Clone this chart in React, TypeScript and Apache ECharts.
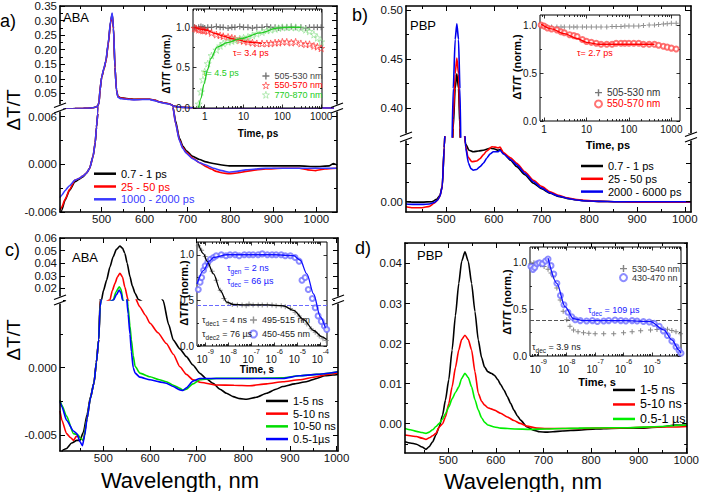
import React, { useEffect, useRef } from "react";
import * as echarts from "echarts";

type P = [number, number];
const FONT = "'Liberation Sans', Arial, sans-serif";

// ---------- (a) ABA, ps spectra ----------
const A_NAMES = ["0.7 - 1 ps", "25 - 50 ps", "1000 - 2000 ps"];
const A_BLACK: P[] = [[403,-0.0068],[407,-0.0058],[415,-0.0045],[425,-0.0033],[438,-0.0022],[447,-0.0019],[456,-0.0016],[465,-0.0011],[472,-0.0005],[480,0.001],[485,0.0027],[488,0.0047],[491,0.0064],[494,0.02],[496,0.06],[500,0.105],[505,0.133],[510,0.162],[515,0.218],[521,0.297],[524.5,0.322],[527.5,0.274],[531,0.14],[534.5,0.062],[538,0.039],[545,0.035],[550,0.034],[565,0.031],[575,0.03],[595,0.03],[612,0.03],[625,0.026],[635,0.021],[648,0.017],[658,0.014],[663,0.011],[666,0.0072],[672,0.0055],[681,0.0033],[689,0.0023],[697,0.0017],[712,0.001],[728,0.0006],[743,0.0003],[760,0.0001],[780,-0.0001],[797,-0.0002],[840,-0.0002],[882,-0.0002],[921,-0.0002],[960,-0.0002],[998,-0.0003],[1030,-0.0002],[1040,0.0001],[1048,-0.0001]];
const A_RED: P[] = [[403,-0.0058],[407,-0.0054],[415,-0.0044],[425,-0.0032],[438,-0.002],[447,-0.0018],[456,-0.0015],[465,-0.0011],[472,-0.0005],[480,0.001],[485,0.0027],[488,0.0047],[491,0.0064],[494,0.02],[496,0.06],[500,0.105],[505,0.133],[510,0.16],[515,0.215],[521,0.295],[524.5,0.32],[527.5,0.272],[531,0.14],[534.5,0.062],[538,0.039],[545,0.034],[550,0.033],[565,0.03],[575,0.029],[595,0.03],[612,0.03],[625,0.026],[635,0.021],[648,0.017],[658,0.014],[663,0.011],[666,0.0072],[672,0.0052],[681,0.0031],[689,0.0021],[697,0.0015],[712,0.0008],[728,0.0002],[743,-0.0003],[755,-0.0006],[767,-0.0009],[782,-0.0011],[797,-0.0012],[815,-0.0011],[836,-0.0009],[860,-0.0007],[882,-0.0006],[921,-0.0005],[960,-0.0005],[980,-0.0007],[998,-0.0008],[1020,-0.0006],[1048,-0.0005]];
const A_BLUE: P[] = [[403,-0.0042],[407,-0.0039],[415,-0.0033],[425,-0.0027],[438,-0.002],[447,-0.0018],[456,-0.0015],[465,-0.0011],[472,-0.0005],[480,0.001],[485,0.0027],[488,0.0047],[491,0.0064],[494,0.02],[496,0.06],[500,0.106],[505,0.135],[510,0.163],[515,0.22],[521,0.3],[524.5,0.326],[527.5,0.276],[531,0.14],[534.5,0.06],[538,0.037],[545,0.032],[550,0.031],[565,0.029],[575,0.028],[595,0.029],[612,0.029],[625,0.025],[635,0.02],[648,0.016],[658,0.013],[663,0.0105],[666,0.0072],[672,0.0052],[681,0.003],[689,0.002],[697,0.0014],[712,0.0007],[728,0.0002],[743,-0.0001],[760,-0.0005],[780,-0.0008],[797,-0.001],[815,-0.0009],[836,-0.0007],[860,-0.0006],[882,-0.0005],[921,-0.0005],[960,-0.0005],[998,-0.0005],[1020,-0.0005],[1048,-0.0005]];
// (a) inset, time in ps
const AI_NAMES = ["505-530 nm", "550-570 nm", "770-870 nm"];
const AI_GRAY: P[] = [[0.55,1.0],[0.6,0.99],[0.7,1.0],[0.8,1.01],[0.9,1.0],[1,0.99],[1.2,1.0],[1.5,1.0],[2,1.01],[2.5,1.0],[3,1.0],[4,0.99],[5,1.0],[6,1.0],[8,1.01],[10,1.0],[13,1.0],[17,0.99],[22,1.0],[30,1.0],[40,1.01],[50,1.0],[65,1.0],[80,0.99],[100,1.0],[130,1.0],[170,1.01],[220,1.0],[300,1.0],[400,0.99],[500,1.0],[650,1.0],[800,1.0],[1000,1.0]];
const AI_RED: P[] = [[0.55,0.99],[0.6,0.98],[0.7,0.97],[0.8,0.97],[0.9,0.96],[1,0.96],[1.2,0.95],[1.5,0.93],[2,0.91],[2.5,0.9],[3,0.89],[4,0.88],[5,0.87],[6,0.86],[8,0.84],[10,0.83],[13,0.82],[17,0.81],[22,0.8],[30,0.8],[40,0.8],[50,0.8],[65,0.81],[80,0.81],[100,0.82],[130,0.82],[170,0.81],[220,0.82],[300,0.8],[400,0.79],[500,0.79],[650,0.77],[800,0.76],[1000,0.74]];
const AI_GREEN: P[] = [[0.7,0.05],[0.8,0.2],[0.9,0.35],[1,0.45],[1.2,0.55],[1.5,0.65],[2,0.72],[2.5,0.77],[3,0.8],[4,0.82],[5,0.83],[6,0.84],[8,0.86],[10,0.87],[13,0.88],[17,0.9],[22,0.92],[30,0.94],[40,0.96],[50,0.97],[65,0.98],[80,0.99],[100,1.0],[130,1.0],[170,1.0],[220,1.0],[300,0.99],[400,0.97],[500,0.95],[650,0.91],[800,0.87],[1000,0.82]];
const AI_RED_FIT: P[] = [[0.55,1.0],[1,0.97],[2,0.92],[3,0.89],[5,0.86],[8,0.84],[12,0.82],[20,0.81],[30,0.8]];
const AI_GREEN_FIT: P[] = [[0.7,0.0],[0.8,0.12],[0.96,0.3],[1.2,0.48],[1.42,0.61],[2.1,0.755],[3.8,0.81],[8.4,0.86],[27,0.93],[73,0.99],[150,1.0],[300,1.0]];

// ---------- (b) PBP, ps spectra ----------
const B_NAMES = ["0.7 - 1 ps", "25 - 50 ps", "2000 - 6000 ps"];
const B_BLACK: P[] = [[416,0.0],[430,-0.0005],[450,-0.0005],[470,0.0],[480,0.003],[487,0.008],[492,0.02],[496,0.07],[500,0.12],[506,0.22],[511,0.32],[515,0.38],[519,0.42],[522.5,0.435],[526,0.42],[529,0.38],[532,0.3],[536,0.1],[541,0.075],[548,0.067],[557,0.065],[568,0.066],[578,0.067],[592,0.0695],[600,0.069],[609,0.067],[614,0.068],[620,0.063],[635,0.054],[648,0.0456],[665,0.035],[683,0.024],[700,0.017],[718,0.011],[735,0.007],[753,0.0044],[770,0.0025],[788,0.0013],[820,0.0005],[857,0.0],[900,0.0],[950,0.0],[1013,0.0]];
const B_RED: P[] = [[416,-0.0065],[430,-0.0078],[450,-0.0078],[465,-0.006],[475,-0.002],[482,0.002],[487,0.007],[492,0.02],[496,0.07],[500,0.12],[506,0.22],[511,0.32],[515,0.39],[519,0.435],[522.5,0.451],[526,0.435],[529,0.39],[532,0.31],[536,0.12],[540,0.075],[546,0.058],[554,0.052],[564,0.053],[571,0.056],[578,0.061],[585,0.066],[596,0.0716],[603,0.071],[609,0.07],[613,0.071],[620,0.064],[635,0.057],[648,0.05],[665,0.039],[683,0.028],[700,0.02],[718,0.013],[735,0.0085],[753,0.0052],[770,0.003],[788,0.0017],[820,0.0005],[857,0.0],[900,-0.0005],[950,-0.0005],[1013,-0.0005]];
const B_BLUE: P[] = [[416,-0.003],[430,-0.0035],[450,-0.0035],[465,-0.003],[475,-0.001],[482,0.002],[487,0.007],[492,0.02],[496,0.07],[500,0.12],[506,0.23],[511,0.34],[515,0.42],[519,0.47],[522.5,0.486],[526,0.47],[529,0.42],[532,0.33],[536,0.13],[541,0.07],[547,0.05],[552,0.043],[557,0.041],[564,0.042],[571,0.0456],[578,0.05],[585,0.0565],[592,0.062],[599,0.065],[609,0.065],[613,0.067],[620,0.062],[635,0.055],[648,0.048],[665,0.037],[683,0.026],[700,0.018],[718,0.0115],[735,0.0075],[753,0.0046],[770,0.0026],[788,0.0013],[820,0.0004],[857,0.0],[900,0.0],[950,0.0],[1013,0.0]];
// (b) inset, ps
const BI_NAMES = ["505-530 nm", "550-570 nm\u200b"];
const BI_GRAY: P[] = [[0.85,0.99],[1,0.98],[1.2,0.98],[1.5,0.98],[2,0.98],[2.5,0.98],[3,0.98],[4,0.98],[5,0.98],[6,0.98],[8,0.98],[10,0.98],[13,0.98],[17,0.98],[22,0.98],[30,0.98],[40,0.985],[50,0.985],[65,0.985],[80,0.99],[100,0.99],[130,0.99],[170,0.99],[220,0.995],[300,1.0],[400,1.0],[500,1.005],[650,1.01],[800,1.015],[1000,1.02],[1300,1.02]];
const BI_RED: P[] = [[0.85,1.0],[1,0.99],[1.2,0.97],[1.5,0.96],[2,0.95],[2.5,0.93],[3,0.92],[4,0.9],[5,0.89],[6,0.88],[8,0.85],[10,0.83],[13,0.82],[17,0.81],[22,0.8],[30,0.8],[40,0.8],[50,0.81],[65,0.81],[80,0.81],[100,0.81],[130,0.81],[170,0.81],[220,0.8],[300,0.8],[400,0.8],[500,0.79],[650,0.78],[800,0.77],[1000,0.76],[1300,0.75]];
const BI_RED_FIT: P[] = [[0.85,1.01],[1.5,0.96],[3,0.91],[6,0.86],[10,0.82],[20,0.8],[50,0.8],[100,0.8],[200,0.8],[400,0.8]];

// ---------- (c) ABA, ns spectra ----------
const C_NAMES = ["1-5 ns", "5-10 ns", "10-50 ns", "0.5-1\u00b5s"];
const C_BLACK: P[] = [[407,-0.0066],[414,-0.0061],[421,-0.006],[432,-0.0056],[443,-0.0054],[450,-0.0054],[457,-0.0048],[465,-0.0035],[472,-0.0022],[480,-0.0011],[485,0.0004],[490,0.0021],[493,0.005],[496,0.0107],[500,0.018],[507,0.0266],[514,0.037],[521,0.0452],[528,0.051],[535.5,0.0537],[541,0.052],[546,0.048],[551,0.04],[557,0.0293],[562,0.022],[568,0.016],[575,0.0111],[590,0.008],[610,0.0062],[628,0.005],[640,0.0032],[650,0.00205],[664,0.0014],[678,0.00082],[692,0.0002],[707,-0.00042],[720,-0.0008],[735,-0.00116],[750,-0.0016],[764,-0.0019],[778,-0.00215],[793,-0.0023],[807,-0.00235],[828,-0.0022],[850,-0.0019],[870,-0.0016],[885,-0.0014],[910,-0.0012],[935,-0.00104],[957,-0.0008],[975,-0.0006],[992,-0.00054],[1003,-0.0005]];
const C_RED: P[] = [[407,-0.0032],[411,-0.0039],[421,-0.0049],[430,-0.0052],[436,-0.0054],[442,-0.0051],[446,-0.0051],[450,-0.0052],[457,-0.0054],[465,-0.0038],[472,-0.0023],[480,-0.0011],[485,0.0004],[490,0.0021],[493,0.0045],[500,0.0085],[514,0.0107],[519,0.018],[525,0.024],[530,0.029],[535.5,0.032],[541,0.029],[546,0.021],[553,0.0107],[560,0.0075],[568,0.0052],[578,0.00453],[590,0.0039],[600,0.0033],[617,0.0026],[635,0.0018],[650,0.001],[664,0.00007],[678,-0.0005],[692,-0.0009],[710,-0.0011],[742,-0.00129],[780,-0.0013],[814,-0.00134],[850,-0.0012],[885,-0.00104],[920,-0.0009],[957,-0.00067],[980,-0.0005],[1003,-0.0004]];
const C_GREEN: P[] = [[407,-0.0024],[411,-0.0028],[421,-0.0036],[436,-0.0049],[446,-0.005],[450,-0.0052],[457,-0.0054],[465,-0.0038],[472,-0.0023],[480,-0.0011],[485,0.0004],[490,0.0021],[493,0.0045],[505,0.008],[521,0.0107],[527,0.017],[534,0.0213],[538,0.019],[542,0.0107],[548,0.0065],[553,0.0045],[557,0.0031],[560,0.0021],[564,0.0009],[568,0.0001],[578,-0.0004],[600,-0.00067],[620,-0.0009],[635,-0.00104],[650,-0.0013],[664,-0.00153],[670,-0.00166],[678,-0.0016],[692,-0.0012],[707,-0.0009],[742,-0.00079],[814,-0.00079],[885,-0.00075],[920,-0.0006],[957,-0.0005],[1003,-0.0003]];
const C_BLUE: P[] = [[407,-0.0025],[411,-0.0029],[421,-0.0039],[436,-0.0047],[443,-0.0049],[450,-0.0055],[455,-0.0058],[460,-0.005],[465,-0.0038],[472,-0.0023],[480,-0.0011],[485,0.0004],[490,0.0021],[493,0.0045],[505,0.008],[522,0.0107],[528,0.015],[534,0.0187],[538,0.016],[541,0.0107],[548,0.006],[553,0.004],[557,0.0025],[560,0.0012],[564,0.0],[568,-0.0004],[578,-0.0007],[600,-0.0009],[620,-0.00105],[635,-0.00116],[650,-0.0014],[664,-0.00165],[670,-0.0017],[678,-0.0015],[692,-0.001],[707,-0.0008],[742,-0.0008],[814,-0.0008],[885,-0.0008],[920,-0.0006],[957,-0.0005],[1003,-0.0003]];
// (c) inset, time in s
const CI_NAMES = ["495-515 nm", "450-455 nm"];
const CI_GRAY: P[] = [[5e-10,1.1],[7e-10,1.05],[1e-9,0.98],[1.4e-9,0.9],[2e-9,0.82],[3e-9,0.72],[4.5e-9,0.61],[6.5e-9,0.52],[1e-8,0.47],[1.5e-8,0.455],[2.5e-8,0.45],[4e-8,0.45],[6e-8,0.44],[8e-8,0.46],[1.2e-7,0.45],[2e-7,0.45],[3e-7,0.45],[5e-7,0.45],[8e-7,0.45],[1.2e-6,0.44],[2e-6,0.44],[3e-6,0.43],[5e-6,0.41],[8e-6,0.37],[1.2e-5,0.33],[1.8e-5,0.28],[2.6e-5,0.24],[4e-5,0.19],[6e-5,0.15],[9e-5,0.11],[1.3e-4,0.08],[1.8e-4,0.06]];
const CI_BLACK_FIT: P[] = [[5e-10,1.12],[8.5e-10,1.01],[1.2e-9,0.93],[2.3e-9,0.79],[4.5e-9,0.61],[8.7e-9,0.48],[1.7e-8,0.455],[5e-8,0.45],[4.8e-7,0.45],[2.5e-6,0.44],[6.9e-6,0.39],[1.9e-5,0.29],[5.1e-5,0.17],[1.2e-4,0.1],[1.9e-4,0.07]];
const CI_BLUE: P[] = [[5e-10,0.62],[6e-10,0.7],[7e-10,0.75],[8.5e-10,0.83],[1e-9,0.88],[1.3e-9,0.92],[1.7e-9,0.95],[2.3e-9,0.97],[3e-9,0.99],[5e-9,1.0],[8e-9,0.99],[1.2e-8,1.0],[2e-8,1.0],[3e-8,0.99],[5e-8,1.0],[8e-8,1.0],[1.2e-7,1.0],[2e-7,1.0],[3e-7,1.01],[5e-7,1.0],[8e-7,1.0],[1.2e-6,1.0],[2e-6,1.0],[3e-6,0.99],[5e-6,0.99],[8e-6,0.97],[1.2e-5,0.93],[1.6e-5,0.72],[2.2e-5,0.75],[3e-5,0.62],[4.5e-5,0.52],[6e-5,0.42],[8e-5,0.33],[1.1e-4,0.27],[1.5e-4,0.22],[1.9e-4,0.18]];
const CI_BLUE_FIT: P[] = [[4.4e-10,0.68],[8.5e-10,0.83],[1.5e-9,0.93],[2.3e-9,0.97],[8.7e-9,1.0],[1e-7,1.0],[1e-6,1.0],[6.9e-6,0.99],[1.35e-5,0.94],[2.6e-5,0.79],[5.1e-5,0.57],[1e-4,0.32],[1.66e-4,0.2]];
const CI_LEVEL = 0.445;

// ---------- (d) PBP, ns spectra ----------
const D_NAMES = ["1-5 ns", "5-10 ns", "0.5-1 \u00b5s"];
const D_BLACK: P[] = [[409,-0.0045],[420,-0.0048],[433,-0.0051],[445,-0.0058],[453,-0.0064],[460,-0.0057],[467,-0.0045],[474,-0.0028],[481,-0.00075],[488,0.0022],[494,0.0059],[501,0.011],[508,0.0184],[515,0.027],[522,0.035],[528,0.0405],[535,0.0429],[542,0.0405],[549,0.035],[556,0.028],[563,0.0209],[570,0.0165],[576,0.0142],[583,0.013],[590,0.0126],[597,0.0121],[604,0.011],[610,0.0098],[617,0.0084],[624,0.0068],[631,0.0051],[638,0.0034],[645,0.002],[652,0.0009],[665,-0.00075],[679,-0.0016],[692,-0.002],[706,-0.0021],[720,-0.002],[740,-0.0018],[774,-0.0016],[810,-0.0013],[843,-0.00115],[877,-0.0011],[911,-0.0011],[945,-0.0008],[979,-0.0003],[1002,-0.0004]];
const D_RED: P[] = [[409,-0.0028],[420,-0.003],[433,-0.0032],[445,-0.0036],[453,-0.0039],[460,-0.0035],[467,-0.003],[474,-0.0024],[481,-0.0008],[488,0.0],[494,0.0017],[501,0.005],[508,0.0092],[515,0.014],[522,0.0184],[528,0.021],[535,0.0221],[542,0.021],[549,0.0184],[556,0.013],[563,0.0076],[570,0.0056],[576,0.0047],[583,0.004],[590,0.0037],[597,0.0034],[610,0.0026],[624,0.0017],[638,0.0008],[651,0.0001],[665,-0.0006],[686,-0.0011],[706,-0.0012],[740,-0.0012],[774,-0.0012],[810,-0.0011],[843,-0.0011],[877,-0.001],[911,-0.0009],[945,-0.0008],[979,-0.0008],[1002,-0.0007]];
const D_GREEN: P[] = [[409,-0.0012],[420,-0.0015],[433,-0.0019],[445,-0.0022],[453,-0.0024],[460,-0.0021],[467,-0.0015],[474,-0.0007],[481,0.0001],[488,0.0012],[494,0.0025],[501,0.0042],[508,0.0062],[515,0.0078],[522,0.0092],[528,0.0113],[535,0.0126],[542,0.0115],[549,0.0092],[556,0.006],[563,0.0034],[570,0.0015],[576,0.0004],[583,-0.0003],[597,-0.0008],[610,-0.0011],[640,-0.0013],[672,-0.0014],[706,-0.0013],[740,-0.0012],[774,-0.0011],[843,-0.001],[877,-0.001],[945,-0.0007],[979,-0.0004],[1002,-0.0003]];
// (d) inset, s
const DI_NAMES = ["530-540 nm", "430-470 nn"];
const DI_GRAY: P[] = [[5.5e-10,0.99],[7e-10,1.0],[9e-10,0.99],[1.2e-9,0.98],[1.6e-9,0.96],[2.2e-9,0.93],[2.8e-9,0.89],[3.4e-9,0.85],[4.5e-9,0.73],[5.9e-9,0.6],[7.5e-9,0.48],[1e-8,0.39],[1.3e-8,0.32],[1.74e-8,0.28],[2.5e-8,0.26],[3.9e-8,0.25],[6e-8,0.245],[1e-7,0.24],[2e-7,0.24],[4.5e-7,0.24],[1e-6,0.25],[2e-6,0.26],[4e-6,0.27],[8.9e-6,0.28],[1.5e-5,0.285],[2.5e-5,0.29],[3.5e-5,0.286],[5e-5,0.275],[7e-5,0.26],[1e-4,0.24]];
const DI_BLUE: P[] = [[5.5e-10,0.96],[6.5e-10,0.93],[7.5e-10,0.95],[9e-10,0.99],[1.1e-9,1.0],[1.4e-9,0.99],[1.8e-9,1.02],[2.2e-9,1.04],[2.8e-9,0.97],[3.5e-9,0.88],[4.5e-9,0.78],[6e-9,0.65],[8e-9,0.55],[1.1e-8,0.47],[1.5e-8,0.42],[2e-8,0.39],[3e-8,0.38],[5e-8,0.375],[8e-8,0.38],[1.2e-7,0.37],[2e-7,0.375],[3e-7,0.38],[5e-7,0.385],[8e-7,0.38],[1.2e-6,0.375],[2e-6,0.38],[3e-6,0.375],[5e-6,0.37],[8e-6,0.365],[1.2e-5,0.35],[1.8e-5,0.32],[2.5e-5,0.27],[3.5e-5,0.22],[5e-5,0.16],[7e-5,0.1],[9e-5,0.06],[1.05e-4,0.03]];
const DI_BLUE_FIT: P[] = [[2.2e-9,1.05],[4.5e-9,0.78],[8.7e-9,0.53],[1.74e-8,0.4],[3.9e-8,0.38],[1e-6,0.38],[8.9e-6,0.37],[2.6e-5,0.28],[5.1e-5,0.17],[8.9e-5,0.064],[1.05e-4,0.03]];
const DI_LEVEL = 0.38;

// ---------- tick values ----------
const NM_LABELS = [500, 600, 700, 800, 900, 1000];
const NM_MINOR = [450, 550, 650, 750, 850, 950];
const A_UP_LABELS = [0.05, 0.1, 0.15, 0.2, 0.25, 0.3, 0.35];
const A_UP_MINOR = [0.025, 0.075, 0.125, 0.175, 0.225, 0.275, 0.325];
const A_LO_LABELS = [-0.006, 0, 0.006];
const A_LO_MINOR = [-0.003, 0.003];
const B_UP_LABELS = [0.4, 0.45, 0.5];
const B_UP_MINOR = [0.375, 0.425, 0.475];
const B_LO_LABELS = [0];
const B_LO_MAJOR = [0, 0.05];
const B_LO_MINOR = [0.025, 0.075];
const C_UP_LABELS = [0.02, 0.03, 0.04, 0.05, 0.06];
const C_LO_LABELS = [-0.005, 0];
const C_LO_MAJOR = [-0.005, 0, 0.005];
const C_LO_MINOR = [-0.0025, 0.0025];
const D_LABELS = [0, 0.01, 0.02, 0.03, 0.04];
const D_MINOR = [-0.005, 0.005, 0.015, 0.025, 0.035, 0.045];
const NORM_LABELS = [0, 0.5, 1.0];
const NORM_MINOR = [0.25, 0.75];

const L = (d: P[]) => d.map(([t, v]) => [Math.log10(t), v]);
function logMinor(lo: number, hi: number) {
  const out: number[] = [];
  for (let e = Math.floor(lo) - 1; e <= Math.ceil(hi); e++)
    for (const k of [2, 3, 4, 5, 6, 7, 8, 9]) {
      const v = e + Math.log10(k);
      if (v > lo && v < hi) out.push(v);
    }
  return out;
}
function logMajor(lo: number, hi: number) {
  const out: number[] = [];
  for (let e = Math.ceil(lo); e <= Math.floor(hi); e++) out.push(e);
  return out;
}

function buildOption() {
  const xAxes: any[] = [];
  const yAxes: any[] = [];
  const series: any[] = [];

  function axis(list: any[], o: any): number {
    const idx = list.length;
    const base = { type: "value", gridIndex: o.grid, position: o.side, min: o.min, max: o.max, splitLine: { show: false }, z: o.z ?? 3 };
    list.push({
      ...base,
      axisLine: { show: !!o.line, onZero: false, lineStyle: { color: "#000", width: o.lw } },
      axisTick: { show: true, inside: true, length: o.majLen, customValues: o.major, lineStyle: { color: "#000", width: o.tw } },
      axisLabel: o.labels
        ? { show: true, customValues: o.labels, formatter: o.fmt, fontSize: o.font, fontFamily: FONT, color: "#111", margin: o.margin ?? 3, rich: o.rich }
        : { show: false },
    });
    if (o.minor && o.minor.length)
      list.push({
        ...base,
        axisLine: { show: false, onZero: false },
        axisTick: { show: true, inside: true, length: o.minLen, customValues: o.minor, lineStyle: { color: "#000", width: o.tw } },
        axisLabel: { show: false },
      });
    return idx;
  }

  const MAIN = { lw: 1.6, tw: 1, majLen: 5, minLen: 3, font: 11.5 };
  const INS = { lw: 1, tw: 0.8, majLen: 3.5, minLen: 2, font: 10, z: 6 };
  const f2 = (v: number) => v.toFixed(2);
  const f3 = (v: number) => v.toFixed(3);
  const f1 = (v: number) => v.toFixed(1);
  const fPow = (v: number) => String(Math.round(Math.pow(10, v)));
  const fSci = (v: number) => `{b|10}{s|${Math.round(v)}}`;
  const sciRich = {
    b: { fontSize: 10, lineHeight: 16, verticalAlign: "bottom", fontFamily: FONT, color: "#111" },
    s: { fontSize: 7, lineHeight: 8, verticalAlign: "top", fontFamily: FONT, color: "#111" },
  };

  const grids = [
    { left: 60, top: 5, width: 277, height: 103 },
    { left: 60, top: 108, width: 277, height: 104 },
    { left: 193, top: 9, width: 129, height: 99, inset: true },
    { left: 406, top: 6, width: 285, height: 131 },
    { left: 406, top: 137, width: 285, height: 75 },
    { left: 540, top: 15, width: 140, height: 106, inset: true },
    { left: 60, top: 238, width: 278, height: 62 },
    { left: 60, top: 300, width: 278, height: 151 },
    { left: 197, top: 242, width: 130, height: 104, inset: true },
    { left: 405, top: 243, width: 289, height: 210 },
    { left: 530, top: 247, width: 151, height: 109, inset: true },
  ].map((g) => ({
    left: g.left, top: g.top, width: g.width, height: g.height, containLabel: false,
    show: !!g.inset, backgroundColor: g.inset ? "#fff" : "transparent",
    borderColor: "#000", borderWidth: g.inset ? 1 : 0, z: g.inset ? 5 : 0,
  }));

  function brokenPanel(gu: number, gl: number, xr: number[], yu: number[], yl: number[], cfg: any) {
    const xu = axis(xAxes, { ...MAIN, grid: gu, side: "top", min: xr[0], max: xr[1], line: true, major: NM_LABELS, minor: NM_MINOR });
    axis(xAxes, { ...MAIN, grid: gu, side: "bottom", min: xr[0], max: xr[1], line: false, major: [] });
    const yu0 = axis(yAxes, { ...MAIN, grid: gu, side: "left", min: yu[0], max: yu[1], line: true, major: cfg.upLabels, labels: cfg.upLabels, fmt: cfg.upFmt, minor: cfg.upMinor });
    axis(yAxes, { ...MAIN, grid: gu, side: "right", min: yu[0], max: yu[1], line: true, major: cfg.upLabels, minor: cfg.upMinor });
    const xl = axis(xAxes, { ...MAIN, grid: gl, side: "bottom", min: xr[0], max: xr[1], line: true, major: NM_LABELS, labels: NM_LABELS, fmt: (v: number) => String(v), minor: NM_MINOR, margin: 1 });
    const yl0 = axis(yAxes, { ...MAIN, grid: gl, side: "left", min: yl[0], max: yl[1], line: true, major: cfg.loMajor, labels: cfg.loLabels, fmt: cfg.loFmt, minor: cfg.loMinor });
    axis(yAxes, { ...MAIN, grid: gl, side: "right", min: yl[0], max: yl[1], line: true, major: cfg.loMajor, minor: cfg.loMinor });
    return { xu, yu: yu0, xl, yl: yl0 };
  }
  function insetAxes(g: number, xr: number[], yr: number[], xLabels: number[], fmt: any, rich?: any) {
    const xi = axis(xAxes, { ...INS, grid: g, side: "bottom", min: xr[0], max: xr[1], major: logMajor(xr[0], xr[1]), labels: xLabels, fmt, rich, minor: logMinor(xr[0], xr[1]), margin: rich ? 2 : 3 });
    axis(xAxes, { ...INS, grid: g, side: "top", min: xr[0], max: xr[1], major: logMajor(xr[0], xr[1]), minor: logMinor(xr[0], xr[1]) });
    const yi = axis(yAxes, { ...INS, grid: g, side: "left", min: yr[0], max: yr[1], major: NORM_LABELS, labels: NORM_LABELS, fmt: f1, minor: NORM_MINOR });
    axis(yAxes, { ...INS, grid: g, side: "right", min: yr[0], max: yr[1], major: NORM_LABELS, minor: NORM_MINOR });
    return { xi, yi };
  }

  const mainLine = (name: string, data: P[], xi: number, yi: number, color: string) => ({
    type: "line", name, data, xAxisIndex: xi, yAxisIndex: yi, showSymbol: false, symbol: "none",
    lineStyle: { color, width: 1.6 }, itemStyle: { color }, clip: true, z: 2, smooth: 0.2, smoothMonotone: "x",
  });
  const fitLine = (name: string, data: any[], xi: number, yi: number, color: string, extra: any = {}) => ({
    type: "line", name, data, xAxisIndex: xi, yAxisIndex: yi, showSymbol: false, symbol: "none",
    lineStyle: { color, width: 1.3 }, itemStyle: { color }, clip: true, z: 8, smooth: 0.3, smoothMonotone: "x", ...extra,
  });
  const PLUS = "path://M4,0H6V4H10V6H6V10H4V6H0V4H4Z";
  const STAR = "path://M5,0L6.2,3.8L10,3.8L6.9,6.1L8.1,10L5,7.6L1.9,10L3.1,6.1L0,3.8L3.8,3.8Z";
  const plusSc = (name: string, data: any[], xi: number, yi: number, color: string, size = 6) => ({
    type: "scatter", name, data, xAxisIndex: xi, yAxisIndex: yi, symbol: PLUS, symbolSize: size, itemStyle: { color }, z: 7, clip: true,
  });
  const starSc = (name: string, data: any[], xi: number, yi: number, color: string) => ({
    type: "scatter", name, data, xAxisIndex: xi, yAxisIndex: yi, symbol: STAR, symbolSize: 7,
    itemStyle: { color: "rgba(0,0,0,0)", borderColor: color, borderWidth: 0.8 }, z: 7, clip: true,
  });
  const circSc = (name: string, data: any[], xi: number, yi: number, color: string) => ({
    type: "scatter", name, data, xAxisIndex: xi, yAxisIndex: yi, symbol: "emptyCircle", symbolSize: 5,
    itemStyle: { color, borderWidth: 0.8 }, z: 7, clip: true,
  });

  // ----- panel a -----
  const pa = brokenPanel(0, 1, [403, 1048], [0, 0.35], [-0.00602, 0.0071], {
    upLabels: A_UP_LABELS, upFmt: f2, upMinor: A_UP_MINOR, loLabels: A_LO_LABELS, loMajor: A_LO_LABELS, loFmt: f3, loMinor: A_LO_MINOR,
  });
  const aCols = ["#000", "#ff0000", "#3a3aff"];
  [A_BLACK, A_RED, A_BLUE].forEach((d, i) => {
    series.push(mainLine(A_NAMES[i], d, pa.xu, pa.yu, aCols[i]));
    series.push(mainLine(A_NAMES[i], d, pa.xl, pa.yl, aCols[i]));
  });
  const ai = insetAxes(2, [Math.log10(0.5), Math.log10(1050)], [0, 1.227], [0, 1, 2, 3], fPow);
  series.push(plusSc(AI_NAMES[0], L(AI_GRAY), ai.xi, ai.yi, "#555"));
  series.push(starSc(AI_NAMES[1], L(AI_RED), ai.xi, ai.yi, "#ff3030"));
  series.push(starSc(AI_NAMES[2], L(AI_GREEN), ai.xi, ai.yi, "#8de08d"));
  series.push(fitLine("fit-a-red", L(AI_RED_FIT), ai.xi, ai.yi, "#ff0000"));
  series.push(fitLine("fit-a-green", L(AI_GREEN_FIT), ai.xi, ai.yi, "#22cc22"));

  // ----- panel b -----
  const pb = brokenPanel(3, 4, [416, 1013], [0.3708, 0.504], [-0.01337, 0.0842], {
    upLabels: B_UP_LABELS, upFmt: f2, upMinor: B_UP_MINOR, loLabels: B_LO_LABELS, loMajor: B_LO_MAJOR, loFmt: f2, loMinor: B_LO_MINOR,
  });
  const bCols = ["#000", "#ff0000", "#0000ee"];
  [B_BLACK, B_RED, B_BLUE].forEach((d, i) => {
    series.push(mainLine(B_NAMES[i], d, pb.xu, pb.yu, bCols[i]));
    series.push(mainLine(B_NAMES[i], d, pb.xl, pb.yl, bCols[i]));
  });
  const bi = insetAxes(5, [Math.log10(0.8), Math.log10(1600)], [0, 1.105], [0, 1, 2, 3], fPow);
  series.push(plusSc(BI_NAMES[0], L(BI_GRAY), bi.xi, bi.yi, "#777", 5));
  series.push(circSc(BI_NAMES[1], L(BI_RED), bi.xi, bi.yi, "#ff5050"));
  series.push(fitLine("fit-b-red", L(BI_RED_FIT), bi.xi, bi.yi, "#ff0000"));

  // ----- panel c -----
  const pc = brokenPanel(6, 7, [407, 1003], [0.0107, 0.0601], [-0.00619, 0.00503], {
    upLabels: C_UP_LABELS, upFmt: f2, upMinor: [], loLabels: C_LO_LABELS, loMajor: C_LO_MAJOR, loFmt: f3, loMinor: C_LO_MINOR,
  });
  const cCols = ["#000", "#ff0000", "#00dd00", "#0000ff"];
  [C_BLACK, C_RED, C_GREEN, C_BLUE].forEach((d, i) => {
    series.push(mainLine(C_NAMES[i], d, pc.xu, pc.yu, cCols[i]));
    series.push(mainLine(C_NAMES[i], d, pc.xl, pc.yl, cCols[i]));
  });
  const ci = insetAxes(8, [Math.log10(4.4e-10), Math.log10(1.95e-4)], [0, 1.14], [-9, -8, -7, -6, -5, -4], fSci, sciRich);
  series.push(plusSc(CI_NAMES[0], L(CI_GRAY), ci.xi, ci.yi, "#777", 5));
  series.push(circSc(CI_NAMES[1], L(CI_BLUE), ci.xi, ci.yi, "#7070ff"));
  series.push(fitLine("fit-c-black", L(CI_BLACK_FIT), ci.xi, ci.yi, "#000"));
  series.push(fitLine("fit-c-blue", L(CI_BLUE_FIT), ci.xi, ci.yi, "#1010ff", {
    markLine: { silent: true, symbol: "none", label: { show: false }, lineStyle: { color: "#6a6aff", type: "dashed", width: 1 }, data: [{ yAxis: CI_LEVEL }] },
  }));

  // ----- panel d -----
  const dx = axis(xAxes, { ...MAIN, grid: 9, side: "bottom", min: 409, max: 1002, line: true, major: NM_LABELS, labels: NM_LABELS, fmt: (v: number) => String(v), minor: NM_MINOR, margin: 1 });
  axis(xAxes, { ...MAIN, grid: 9, side: "top", min: 409, max: 1002, line: true, major: NM_LABELS, minor: NM_MINOR });
  const dy = axis(yAxes, { ...MAIN, grid: 9, side: "left", min: -0.0073, max: 0.0451, line: true, major: D_LABELS, labels: D_LABELS, fmt: f2, minor: D_MINOR });
  axis(yAxes, { ...MAIN, grid: 9, side: "right", min: -0.0073, max: 0.0451, line: true, major: D_LABELS, minor: D_MINOR });
  const dCols = ["#000", "#ff0000", "#00ee00"];
  [D_BLACK, D_RED, D_GREEN].forEach((d, i) => series.push(mainLine(D_NAMES[i], d, dx, dy, dCols[i])));
  const di = insetAxes(10, [Math.log10(5.1e-10), Math.log10(1.05e-4)], [0, 1.17], [-9, -8, -7, -6, -5], fSci, sciRich);
  series.push(plusSc(DI_NAMES[0], L(DI_GRAY), di.xi, di.yi, "#666", 5));
  series.push(circSc(DI_NAMES[1], L(DI_BLUE), di.xi, di.yi, "#7070ff"));
  series.push(fitLine("fit-d-blue", L(DI_BLUE_FIT), di.xi, di.yi, "#1010ff", {
    markLine: { silent: true, symbol: "none", label: { show: false }, lineStyle: { color: "#555", type: "dashed", width: 1 }, data: [{ yAxis: DI_LEVEL }] },
  }));

  // ----- legends -----
  const mainLegend = (left: number, top: number, names: string[], colors: string[], size: number, lh: number) => ({
    left, top, orient: "vertical", padding: 0, itemGap: 0, itemWidth: 22, itemHeight: 2.5, icon: "rect", selectedMode: false, z: 10,
    textStyle: { fontSize: size, fontFamily: FONT, lineHeight: lh },
    data: names.map((n, i) => ({ name: n, textStyle: { color: colors[i] } })),
  });
  const insLegend = (left: number, top: number, items: any[], size: number, lh: number) => ({
    left, top, orient: "vertical", padding: 0, itemGap: 0, itemWidth: 7, itemHeight: 7, selectedMode: false, z: 10,
    textStyle: { fontSize: size, fontFamily: FONT, lineHeight: lh }, data: items,
  });
  const legend = [
    mainLegend(94, 167.3, A_NAMES, ["#000", "#ff0000", "#3a3aff"], 11, 12.8),
    mainLegend(581, 159.6, B_NAMES, ["#000", "#000", "#000"], 11, 12.8),
    mainLegend(266, 394.6, C_NAMES, ["#000", "#000", "#000", "#000"], 11, 12.7),
    mainLegend(613, 382.7, D_NAMES, ["#000", "#000", "#000"], 12.5, 14.5),
    insLegend(262, 71.3, [
      { name: AI_NAMES[0], textStyle: { color: "#444" } },
      { name: AI_NAMES[1], textStyle: { color: "#ff0000" }, itemStyle: { color: "rgba(0,0,0,0)", borderColor: "#ff3030", borderWidth: 0.8 } },
      { name: AI_NAMES[2], textStyle: { color: "#22cc22" }, itemStyle: { color: "rgba(0,0,0,0)", borderColor: "#8de08d", borderWidth: 0.8 } },
    ], 9, 9.4),
    insLegend(594, 87, [
      { name: BI_NAMES[0], textStyle: { color: "#333" } },
      { name: BI_NAMES[1], textStyle: { color: "#ff0000" } },
    ], 10, 11.3),
    insLegend(249, 313, [
      { name: CI_NAMES[0], textStyle: { color: "#222" } },
      { name: CI_NAMES[1], textStyle: { color: "#222" } },
    ], 9, 14),
    insLegend(619, 264.1, [
      { name: DI_NAMES[0], textStyle: { color: "#333" } },
      { name: DI_NAMES[1], textStyle: { color: "#333" } },
    ], 9, 8.4),
  ];

  // ----- graphic texts & breaks -----
  const txt = (text: string, x: number, y: number, size: number, opts: any = {}) => ({
    type: "text", x, y, z: 100, rotation: opts.rot ?? 0,
    style: {
      text, fill: opts.color ?? "#000", font: `${opts.bold ? "bold " : ""}${size}px ${FONT}`,
      textAlign: opts.align ?? "left", align: opts.align ?? "left", textVerticalAlign: "middle", verticalAlign: "middle",
      rich: opts.rich,
    },
  });
  const tauRich = (color: string) => ({
    t: { fontSize: 9, lineHeight: 13, fontFamily: FONT, fill: color, color },
    s: { fontSize: 6.5, lineHeight: 7, verticalAlign: "bottom", fontFamily: FONT, fill: color, color },
  });
  const brk = (x: number, y: number) => [
    { type: "rect", z: 99, shape: { x: x - 3, y: y - 3.5, width: 6, height: 7 }, style: { fill: "#fff" } },
    { type: "line", z: 100, shape: { x1: x - 6, y1: y - 0.5, x2: x + 6, y2: y - 5 }, style: { stroke: "#000", lineWidth: 1.3 } },
    { type: "line", z: 100, shape: { x1: x - 6, y1: y + 5, x2: x + 6, y2: y + 0.5 }, style: { stroke: "#000", lineWidth: 1.3 } },
  ];
  const R = Math.PI / 2;
  const elements: any[] = [
    ...brk(60, 108), ...brk(337, 108), ...brk(406, 137), ...brk(691, 137), ...brk(60, 300), ...brk(338, 300),
    txt("a)", 0, 21, 18), txt("ABA", 63, 17, 13),
    txt("b)", 352, 15, 18), txt("PBP", 410, 25, 13),
    txt("c)", 5, 250, 18), txt("ABA", 72, 257, 13),
    txt("d)", 355, 248, 18), txt("PBP", 417, 255, 13),
    txt("\u0394T/T", 13, 110, 19, { rot: R, align: "center" }),
    txt("\u0394T/T", 13, 340, 19, { rot: R, align: "center" }),
    txt("Wavelength, nm", 180, 480, 22, { align: "center" }),
    txt("Wavelength, nm", 523, 481, 22, { align: "center" }),
    // inset axis names
    txt("\u0394T/T (norm.)", 166, 64, 10, { rot: R, align: "center", bold: true }),
    txt("Time, ps", 258, 133, 10, { align: "center", bold: true }),
    txt("\u0394T/T (norm.)", 517, 67, 11, { rot: R, align: "center", bold: true }),
    txt("Time, ps", 608, 145, 11, { align: "center", bold: true }),
    txt("\u0394T/T (norm.)", 184, 293, 11, { rot: R, align: "center", bold: true }),
    txt("Time, s", 257, 369, 10, { align: "center", bold: true }),
    txt("\u0394T/T (norm.)", 507, 302, 11, { rot: R, align: "center", bold: true }),
    txt("Time, s", 597, 382, 11, { align: "center", bold: true }),
    // lifetimes
    txt("\u03c4= 3.4 ps", 233, 53, 9, { color: "#ff0000" }),
    txt("\u03c4= 4.5 ps", 203, 73, 9, { color: "#22cc22" }),
    txt("\u03c4= 2.7 ps", 577, 53, 9, { color: "#ff0000" }),
    txt("{t|\u03c4}{s|gen}{t| = 2 ns}", 227, 268, 9, { rich: tauRich("#2020ff") }),
    txt("{t|\u03c4}{s|dec}{t| = 66 \u00b5s}", 227, 281, 9, { rich: tauRich("#2020ff") }),
    txt("{t|\u03c4}{s|dec1}{t| = 4 ns}", 202, 320, 9, { rich: tauRich("#222") }),
    txt("{t|\u03c4}{s|dec2}{t| = 76 \u00b5s}", 202, 334, 9, { rich: tauRich("#222") }),
    txt("{t|\u03c4}{s|dec}{t| = 109 \u00b5s}", 588, 310, 9, { rich: tauRich("#2020ff") }),
    txt("{t|\u03c4}{s|dec}{t| = 3.9 ns}", 532, 347, 9, { rich: tauRich("#222") }),
  ];

  return {
    animation: false,
    backgroundColor: "#fff",
    textStyle: { fontFamily: FONT },
    grid: grids,
    xAxis: xAxes,
    yAxis: yAxes,
    legend,
    series,
    graphic: { elements },
  };
}

export default function App() {
  const ref = useRef<HTMLDivElement>(null);
  useEffect(() => {
    if (!ref.current) return;
    const chart = echarts.init(ref.current, undefined, { renderer: "svg", width: 702, height: 492 });
    chart.setOption(buildOption() as any);
    return () => chart.dispose();
  }, []);
  return <div ref={ref} style={{ position: "absolute", left: 0, top: 0, width: 702, height: 492, background: "#fff" }} />;
}
